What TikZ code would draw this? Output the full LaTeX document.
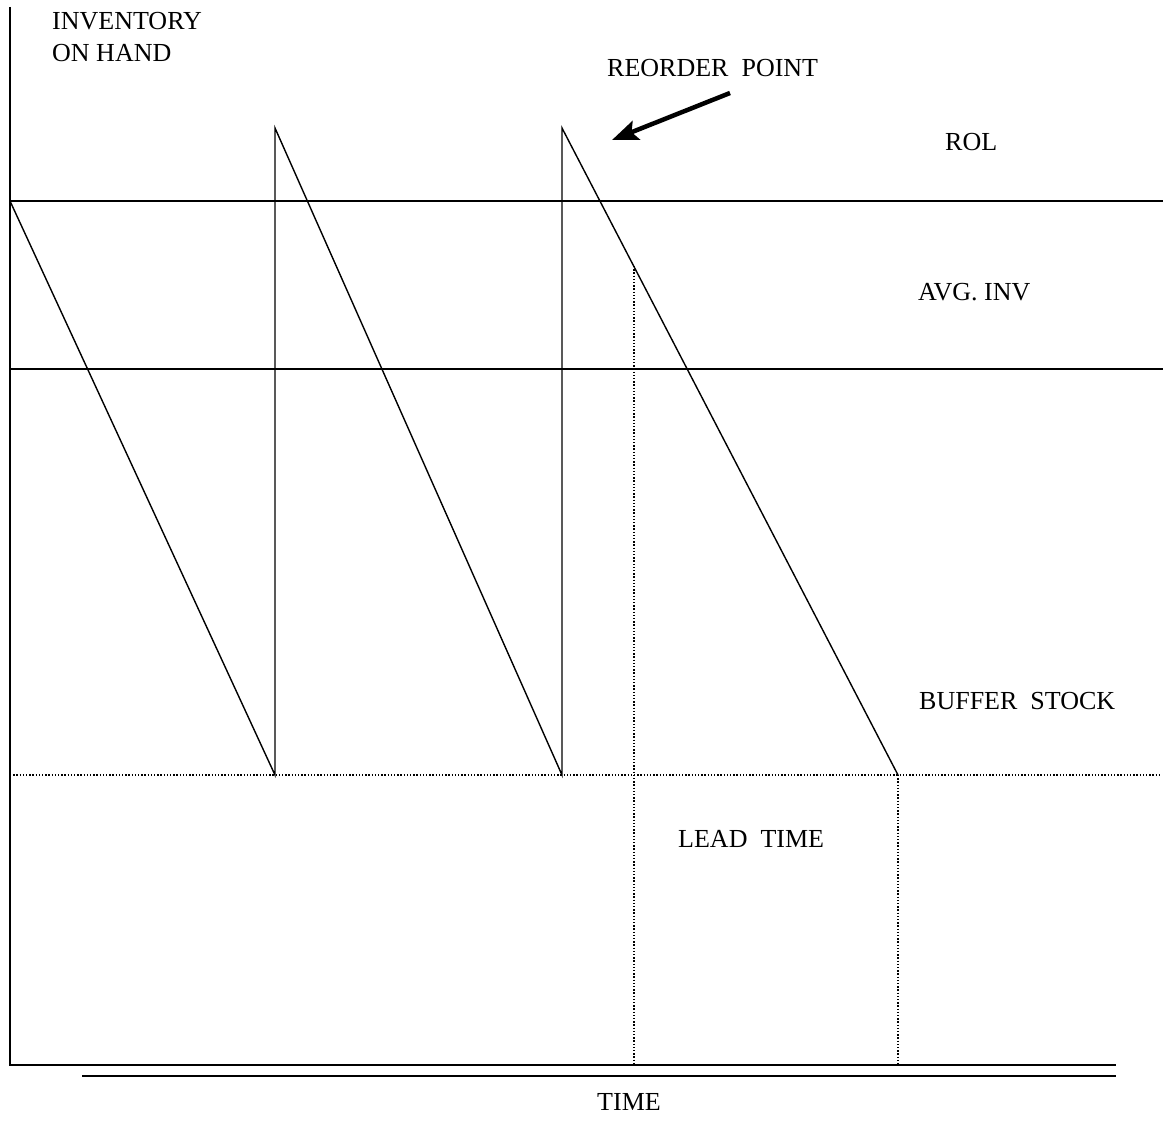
\documentclass[tikz,border=0pt]{standalone}
\usepackage{fontspec}
\setmainfont{Liberation Serif}
\usetikzlibrary{positioning,arrows.meta}

\begin{document}
\begin{tikzpicture}[x=1pt, y=-1pt,
    lbl/.style={font=\fontsize{26}{32}\selectfont, inner sep=0pt, anchor=base west},
    level/.style={line width=1.7pt},
    saw/.style={line width=1.4pt},
    guide/.style={line width=1.3pt, dash pattern=on 1.3pt off 1.9pt}]
    \useasboundingbox (0,0) rectangle (1165,1140);

    % axes
    \coordinate(ytop) at (10,7);
    \coordinate(origin) at (10,1065);
    \coordinate(xend) at (1116,1065);
    \coordinate(x2start) at (82,1076);
    \coordinate(x2end) at (1116,1076);
    \draw[level] (ytop) -- (origin) -- (xend);
    \draw[level] (x2start) -- (x2end);

    % level lines
    \coordinate(rolL) at (10,201);
    \coordinate(rolR) at (1163,201);
    \coordinate(avgL) at (10,369);
    \coordinate(avgR) at (1163,369);
    \coordinate(bufL) at (10,775);
    \coordinate(bufR) at (1160,775);
    \draw[level] (rolL) -- (rolR);
    \draw[level] (avgL) -- (avgR);
    \draw[guide] (bufL) -- (bufR);

    % sawtooth
    \coordinate(s0) at (10,201);
    \coordinate(b1) at (275,775);
    \coordinate(p1) at (275,128);
    \coordinate(b2) at (562,775);
    \coordinate(p2) at (562,128);
    \coordinate(b3) at (898,775);
    \draw[saw] (s0) -- (b1) -- (p1) -- (b2) -- (p2) -- (b3);

    % lead time
    \coordinate(order) at (634,266);
    \coordinate(orderB) at (634,1065);
    \coordinate(arrive) at (898,1065);
    \draw[guide] (order) -- (orderB);
    \draw[guide] (b3) -- (arrive);

    % labels
    \node(inv)[lbl] at (52,30) {INVENTORY};
    \node(onhand)[lbl] at (52,62) {ON HAND};
    \node(reorder)[lbl] at (607,77) {REORDER~~POINT};
    \node(rol)[lbl] at (945,150) {ROL};
    \node(avg)[lbl] at (918,300) {AVG. INV};
    \node(buffer)[lbl] at (919,709) {BUFFER~~STOCK};
    \node(lead)[lbl] at (678,847) {LEAD~~TIME};
    \node(time)[lbl] at (597,1110) {TIME};

    \coordinate(tail) at (730,93);
    \coordinate(tip) at (612,140);
    \draw[line width=4.5pt, -{Stealth[length=26pt, width=20pt, inset=5pt]}] (tail) -- (tip);
\end{tikzpicture}
\end{document}
